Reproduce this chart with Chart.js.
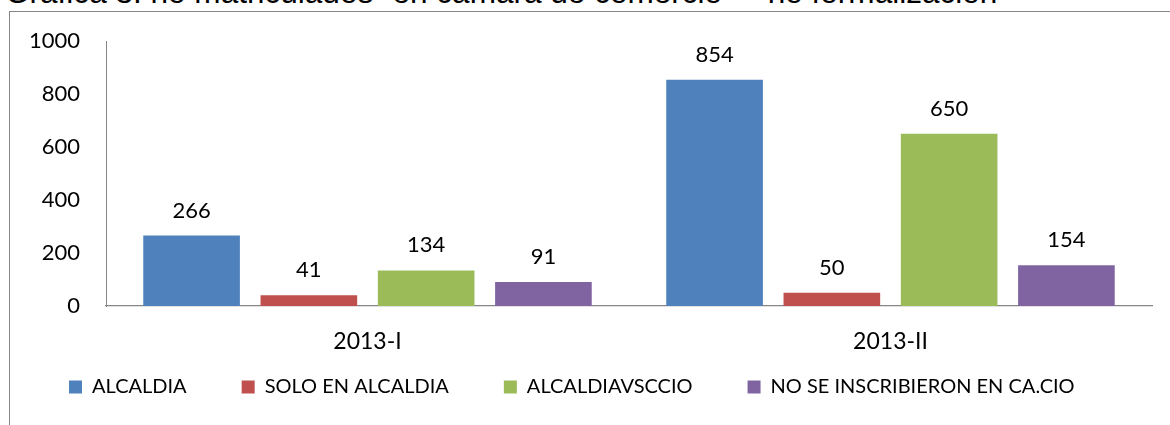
<!DOCTYPE html>
<html>
<head>
<meta charset="utf-8">
<script src="https://cdn.jsdelivr.net/npm/chart.js@4"></script>
<style>
    body { margin: 0; background: #fff; overflow: hidden; }
    #page { position: relative; width: 1170px; height: 425px; overflow: hidden; }
    #title { position: absolute; left: 5px; top: 0; white-space: nowrap; font-family: "Liberation Sans", Arial, sans-serif; color: #000; line-height: 1; }
    #box { position: absolute; left: 9px; top: 11px; width: 1300px; height: 600px; border: 1px solid #868686; }
    #wrap { position: absolute; left: 0; top: 0; width: 1170px; height: 425px; }
</style>
</head>
<body>
<div id="page">
    <div id="title">Gráfica 3: no matriculados “en cámara de comercio” – no formalización</div>
    <div id="box"></div>
    <div id="wrap"><canvas id="bar-chart-grouped"></canvas></div>
</div>
<script>
// data
const periods = ["2013-I", "2013-II"];
const seriesNames = ["ALCALDIA", "SOLO EN ALCALDIA", "ALCALDIAVSCCIO", "NO SE INSCRIBIERON EN CA.CIO"];
const alcaldia = [266, 854];
const soloAlcaldia = [41, 50];
const alcaldiaVsCcio = [134, 650];
const noInscritos = [91, 154];
const yTicks = [0, 200, 400, 600, 800, 1000];

const colors = ["#4F81BD", "#C0504D", "#9BBB59", "#8064A2"];
const values = [alcaldia, soloAlcaldia, alcaldiaVsCcio, noInscritos];

const LEGEND_TOP = 322; // legend row sits close under the category labels

// title is cut at the top in the original, fit its width and baseline
let title = document.getElementById("title");
let ctx2 = document.createElement("canvas").getContext("2d");
ctx2.font = '100px "Liberation Sans"';
let fs = 100 * 993 / ctx2.measureText(title.textContent).width;
title.style.fontSize = fs + "px";
title.style.top = (3.5 - 0.8465 * fs) + "px";

let datasetsArrayOfObjects = [];
for (let i = 0; i < seriesNames.length; i++) {
    datasetsArrayOfObjects.push({
        label: seriesNames[i],
        backgroundColor: colors[i],
        data: values[i],
        categoryPercentage: 0.897,
        barPercentage: 0.824
    });
}

// values above the bars + legend row position
const barValues = {
    id: "barValues",
    beforeDraw(chart) {
        chart.legend.top = LEGEND_TOP;
    },
    afterDatasetsDraw(chart) {
        let ctx = chart.ctx;
        ctx.save();
        ctx.font = '22px Lato';
        ctx.fillStyle = "#000";
        ctx.textAlign = "center";
        ctx.textBaseline = "alphabetic";
        chart.data.datasets.forEach((ds, i) => {
            chart.getDatasetMeta(i).data.forEach((bar, j) => {
                ctx.fillText(ds.data[j], bar.x, bar.y - 18);
            });
        });
        ctx.restore();
    }
};

new Chart(document.getElementById("bar-chart-grouped"), {
    type: 'bar',
    data: {
        labels: periods,
        datasets: datasetsArrayOfObjects
    },
    plugins: [barValues],
    options: {
        responsive: true,
        maintainAspectRatio: false,
        animation: false,
        layout: { padding: { left: 14, right: 18, top: 41, bottom: 0 } },
        plugins: {
            title: { display: false },
            tooltip: { enabled: false },
            legend: {
                position: 'bottom',
                align: 'start',
                maxHeight: 59,
                labels: {
                    boxWidth: 13,
                    boxHeight: 13,
                    padding: 55,
                    color: "#000",
                    font: { family: "Lato", size: 20 }
                }
            }
        },
        scales: {
            x: {
                grid: { display: false, drawTicks: false },
                border: { display: true, color: "#868686", width: 1.3 },
                ticks: { color: "#000", padding: 22, font: { family: "Lato", size: 23 } },
                afterFit(scale) { scale.height = 60; }
            },
            y: {
                min: 0,
                max: 1000,
                grid: { display: false, drawTicks: false },
                border: { display: true, color: "#868686", width: 1 },
                afterBuildTicks(scale) { scale.ticks = yTicks.map(v => ({ value: v })); },
                ticks: {
                    color: "#000",
                    padding: 26,
                    font: { family: "Lato", size: 22 },
                    callback: v => String(v)
                },
                afterFit(scale) { scale.width = 92; }
            }
        }
    }
}); // end of new Chart
</script>
</body>
</html>
